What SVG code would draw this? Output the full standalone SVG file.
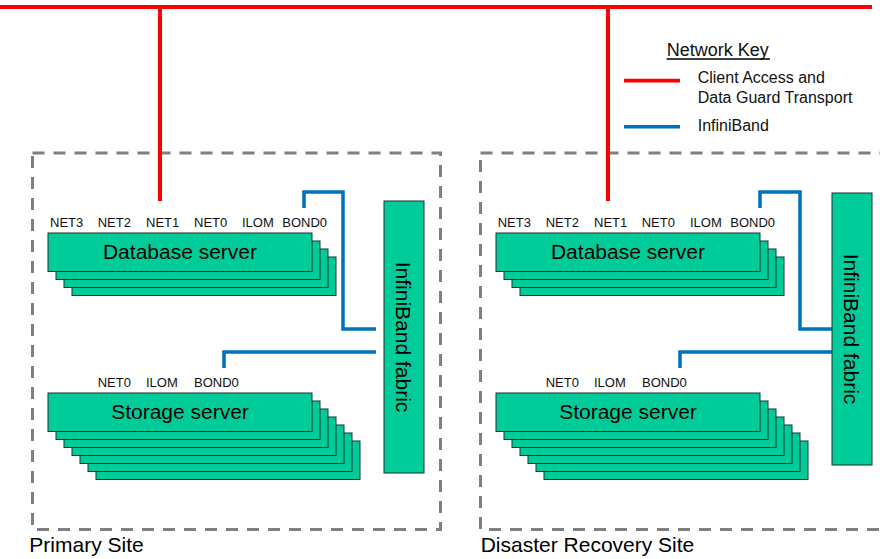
<svg xmlns="http://www.w3.org/2000/svg" width="880" height="559" viewBox="0 0 880 559">
<style>
text{font-family:"Liberation Sans",Arial,sans-serif;fill:#000}
.site{fill:none;stroke:#808080;stroke-width:3;stroke-dasharray:12 9}
.srv{fill:#00cc99;stroke:#1f2f2a;stroke-width:1}
.lbl{font-size:13px;fill:#111}
.big{font-size:21px}
.red{fill:none;stroke:#ff0000;stroke-width:4}
.blue{fill:none;stroke:#0070c0;stroke-width:3.5}
.key{font-size:16px;fill:#111}
</style>
<defs>
<rect id="card" class="srv" width="264" height="38.5"/>
</defs>
<rect width="880" height="559" fill="#fff"/>

<g id="primary-site">
<rect class="site" x="32.5" y="153" width="408" height="376.5"/>
<text class="big" x="29.3" y="551.7">Primary Site</text>
</g>
<g id="dr-site">
<rect class="site" x="480.5" y="153" width="410" height="376.5"/>
<text class="big" x="480.7" y="551.7">Disaster Recovery Site</text>
</g>

<g id="connectors">
<path class="red" d="M0,7 H872 M160,7 V201 M608,7 V201"/>
<path class="blue" d="M304,208 V192 H343 V329 H376"/>
<path class="blue" d="M224,368 V352 H376"/>
<path class="blue" d="M760,208 V192 H800 V329 H832"/>
<path class="blue" d="M680,368 V352 H832"/>
</g>

<g id="db-primary">
<use href="#card" x="72" y="257"/>
<use href="#card" x="64" y="249"/>
<use href="#card" x="56" y="241"/>
<use href="#card" x="48" y="233"/>
<text class="big" x="180" y="259.3" text-anchor="middle">Database server</text>
<text class="lbl" x="50" y="226.7">NET3</text>
<text class="lbl" x="97.7" y="226.7">NET2</text>
<text class="lbl" x="146" y="226.7">NET1</text>
<text class="lbl" x="194" y="226.7">NET0</text>
<text class="lbl" x="242" y="226.7">ILOM</text>
<text class="lbl" x="282.3" y="226.7">BOND0</text>
</g>

<g id="storage-primary">
<use href="#card" x="96" y="441"/>
<use href="#card" x="88" y="433"/>
<use href="#card" x="80" y="425"/>
<use href="#card" x="72" y="417"/>
<use href="#card" x="64" y="409"/>
<use href="#card" x="56" y="401"/>
<use href="#card" x="48" y="393"/>
<text class="big" x="180" y="419.3" text-anchor="middle">Storage server</text>
<text class="lbl" x="97.7" y="386.7">NET0</text>
<text class="lbl" x="146" y="386.7">ILOM</text>
<text class="lbl" x="194" y="386.7">BOND0</text>
</g>

<g id="ib-primary">
<rect class="srv" x="384" y="201" width="40" height="272"/>
<text class="big" transform="translate(396,337) rotate(90)" text-anchor="middle">InfiniBand fabric</text>
</g>

<g id="db-dr">
<use href="#card" x="520" y="257"/>
<use href="#card" x="512" y="249"/>
<use href="#card" x="504" y="241"/>
<use href="#card" x="496" y="233"/>
<text class="big" x="628" y="259.3" text-anchor="middle">Database server</text>
<text class="lbl" x="497.7" y="226.7">NET3</text>
<text class="lbl" x="545.7" y="226.7">NET2</text>
<text class="lbl" x="594" y="226.7">NET1</text>
<text class="lbl" x="641.7" y="226.7">NET0</text>
<text class="lbl" x="690" y="226.7">ILOM</text>
<text class="lbl" x="730.3" y="226.7">BOND0</text>
</g>

<g id="storage-dr">
<use href="#card" x="544" y="441"/>
<use href="#card" x="536" y="433"/>
<use href="#card" x="528" y="425"/>
<use href="#card" x="520" y="417"/>
<use href="#card" x="512" y="409"/>
<use href="#card" x="504" y="401"/>
<use href="#card" x="496" y="393"/>
<text class="big" x="628" y="419.3" text-anchor="middle">Storage server</text>
<text class="lbl" x="545.7" y="386.7">NET0</text>
<text class="lbl" x="594" y="386.7">ILOM</text>
<text class="lbl" x="642" y="386.7">BOND0</text>
</g>

<g id="ib-dr">
<rect class="srv" x="832" y="193" width="40" height="272"/>
<text class="big" transform="translate(844,329) rotate(90)" text-anchor="middle">InfiniBand fabric</text>
</g>

<g id="network-key">
<text class="key" x="666.7" y="55.7" style="font-size:18px">Network Key</text>
<line x1="666.5" y1="59" x2="770" y2="59" stroke="#000" stroke-width="1.3"/>
<line x1="624" y1="80.7" x2="680" y2="80.7" stroke="#ff0000" stroke-width="3.7"/>
<text class="key" x="697.7" y="83.3">Client Access and</text>
<text class="key" x="697.7" y="102.7">Data Guard Transport</text>
<line x1="624" y1="126.7" x2="680" y2="126.7" stroke="#0070c0" stroke-width="3.5"/>
<text class="key" x="697.7" y="130.7">InfiniBand</text>
</g>
</svg>
